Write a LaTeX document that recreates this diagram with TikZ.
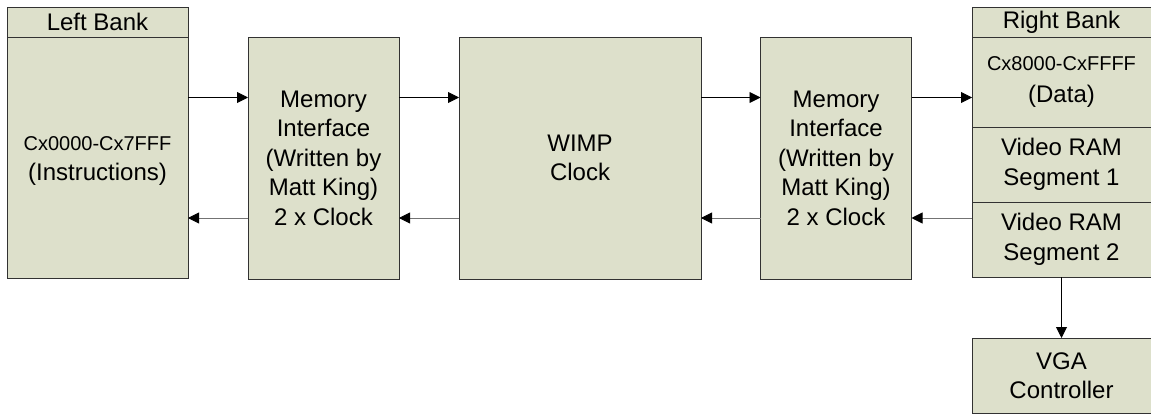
\documentclass[tikz,border=0pt]{standalone}
\usepackage{fontspec}
\setmainfont{Liberation Sans}
\usetikzlibrary{arrows.meta}
\definecolor{boxfill}{RGB}{221,224,203}
\definecolor{boxline}{RGB}{50,50,50}
\tikzset{
  box/.style={draw=boxline, fill=boxfill, line width=0.9pt, rectangle, inner sep=0pt, outer sep=0pt,
    align=center, font=\fontsize{24}{29.5}\selectfont},
  arr/.style={line width=0.9pt, -{Triangle[length=11pt,width=11pt,color=black]}},
  arrg/.style={arr, draw=black!55},
}
\begin{document}
\begin{tikzpicture}[x=1pt,y=1pt]
\useasboundingbox (0,0) rectangle (1151,-414);
% left bank
\node[box, minimum width=181pt, minimum height=30pt] (lbh) at (97.5,-22) {Left Bank};
\node[box, minimum width=181pt, minimum height=241pt] (lbb) at (97.5,-157.5) {};
\node[align=center, font=\fontsize{24}{29.5}\selectfont] (lbt) at (97.5,-161) {{\fontsize{20}{24}\selectfont Cx0000-Cx7FFF}\\(Instructions)};
% memory interface 1
\node[box, minimum width=151pt, minimum height=242pt] (mi1) at (323.5,-158) {Memory\\Interface\\(Written by\\Matt King)\\2 x Clock};
% WIMP
\node[box, minimum width=242pt, minimum height=242pt] (wimp) at (580,-158) {WIMP\\Clock};
% memory interface 2
\node[box, minimum width=151pt, minimum height=242pt] (mi2) at (836,-158) {Memory\\Interface\\(Written by\\Matt King)\\2 x Clock};
% right bank
\node[box, minimum width=179pt, minimum height=30pt] (rbh) at (1061.5,-22) {Right Bank};
\node[box, minimum width=179pt, minimum height=90pt] (rbd) at (1061.5,-82) {{\fontsize{20}{24}\selectfont Cx8000-CxFFFF}\\[3pt](Data)};
\node[box, minimum width=179pt, minimum height=75pt] (rv1) at (1061.5,-164.5) {Video RAM\\Segment 1};
\node[box, minimum width=179pt, minimum height=75pt] (rv2) at (1061.5,-239.5) {Video RAM\\Segment 2};
% VGA
\node[box, minimum width=179pt, minimum height=75pt] (vga) at (1061.5,-375.5) {VGA\\Controller};
% arrow levels
\coordinate (top) at (0,-97.5);
\coordinate (bot) at (0,-218);
\draw[arr] (lbb.east |- top) -- (mi1.west |- top);
\draw[arrg] (mi1.west |- bot) -- (lbb.east |- bot);
\draw[arr] (mi1.east |- top) -- (wimp.west |- top);
\draw[arrg] (wimp.west |- bot) -- (mi1.east |- bot);
\draw[arr] (wimp.east |- top) -- (mi2.west |- top);
\draw[arrg] (mi2.west |- bot) -- (wimp.east |- bot);
\draw[arr] (mi2.east |- top) -- (rbd.west |- top);
\draw[arrg] (rv2.west |- bot) -- (mi2.east |- bot);
\draw[arr] (rv2.south) -- (vga.north);
\end{tikzpicture}
\end{document}
